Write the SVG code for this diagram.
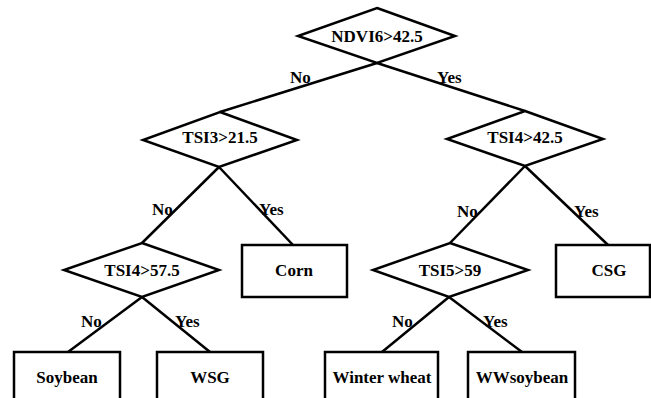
<svg xmlns="http://www.w3.org/2000/svg" width="651" height="398" viewBox="0 0 651 398">
<style>
.s{fill:#fff;stroke:#000;stroke-width:2.5;stroke-linejoin:miter}
.c{fill:none;stroke:#000;stroke-width:2.5}
text{font-family:'Liberation Serif','DejaVu Serif',serif;font-weight:700;font-size:17px;fill:#000}
.m{text-anchor:middle}
</style>
<rect width="651" height="398" fill="#fff"/>
<g id="connectors">
<line class="c" x1="377" y1="63" x2="220" y2="112"/>
<line class="c" x1="377" y1="63" x2="525" y2="111"/>
<line class="c" x1="219" y1="167" x2="142" y2="243"/>
<line class="c" x1="219" y1="167" x2="293" y2="245"/>
<line class="c" x1="525" y1="166" x2="450" y2="243"/>
<line class="c" x1="525" y1="166" x2="608" y2="245"/>
<line class="c" x1="142" y1="297" x2="68" y2="352"/>
<line class="c" x1="142" y1="297" x2="210" y2="352"/>
<line class="c" x1="449" y1="297" x2="382" y2="352"/>
<line class="c" x1="449" y1="297" x2="522" y2="352"/>
<text x="290" y="83">No</text>
<text x="437" y="83">Yes</text>
<text x="152" y="215">No</text>
<text x="259" y="215">Yes</text>
<text x="457" y="217">No</text>
<text x="574" y="217">Yes</text>
<text x="81" y="327">No</text>
<text x="175" y="327">Yes</text>
<text x="392" y="327">No</text>
<text x="483" y="327">Yes</text>
</g>
<g id="n1"><polygon class="s" points="377,8 455,36 377,63 298,36"/><text class="m" x="377" y="42">NDVI6&gt;42.5</text></g>
<g id="n2"><polygon class="s" points="220,112 297,140 219,167 143,140"/><text class="m" x="220" y="143">TSI3&gt;21.5</text></g>
<g id="n3"><polygon class="s" points="525,111 603,139 525,166 447,139"/><text class="m" x="525" y="143">TSI4&gt;42.5</text></g>
<g id="n4"><polygon class="s" points="142,243 219,270 142,297 64,270"/><text class="m" x="142" y="276">TSI4&gt;57.5</text></g>
<g id="n5"><rect class="s" x="242" y="245" width="105" height="52"/><text class="m" x="294" y="276">Corn</text></g>
<g id="n6"><polygon class="s" points="450,243 528,270 449,297 373,270"/><text class="m" x="450" y="276">TSI5&gt;59</text></g>
<g id="n7"><rect class="s" x="556" y="245" width="94" height="52"/><text class="m" x="609" y="276">CSG</text></g>
<g id="n8"><rect class="s" x="14" y="352" width="106" height="55"/><text class="m" x="67" y="383">Soybean</text></g>
<g id="n9"><rect class="s" x="157" y="352" width="106" height="55"/><text class="m" x="210" y="383">WSG</text></g>
<g id="n10"><rect class="s" x="325" y="352" width="113" height="55"/><text class="m" x="382" y="383">Winter wheat</text></g>
<g id="n11"><rect class="s" x="468" y="352" width="107" height="55"/><text class="m" x="522" y="383">WWsoybean</text></g>
</svg>
